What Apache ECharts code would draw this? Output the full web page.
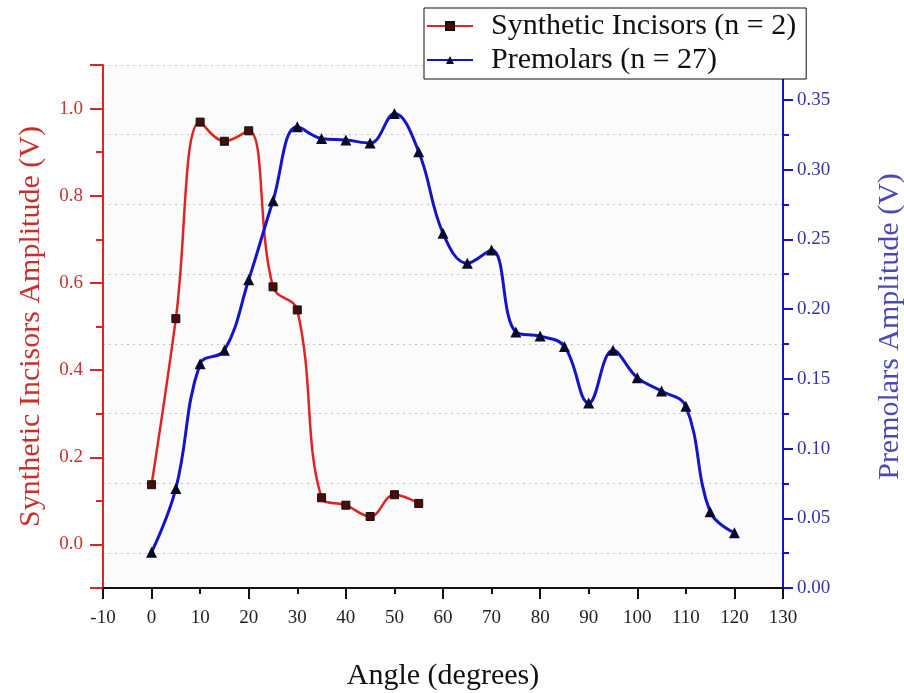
<!DOCTYPE html>
<html>
<head>
<meta charset="utf-8">
<title>Synthetic Incisors vs Premolars</title>
<script src="https://cdn.jsdelivr.net/npm/echarts@6/dist/echarts.min.js"></script>
<style>
    html, body { margin: 0; padding: 0; background: #fff; }
    #main1 { width: 904px; height: 693px; }
</style>
</head>
<body>
<div id="main1"></div>
<script>
// angle in degrees, amplitude in V
var incisorAngles = [0, 5, 10, 15, 20, 25, 30, 35, 40, 45, 50, 55];
var incisorValues = [0.137, 0.518, 0.969, 0.925, 0.949, 0.591, 0.538, 0.107, 0.090, 0.064, 0.114, 0.094];

var premolarAngles = [0, 5, 10, 15, 20, 25, 30, 35, 40, 45, 50, 55, 60, 65, 70, 75, 80, 85, 90, 95, 100, 105, 110, 115, 120];
var premolarValues = [0.0256, 0.0714, 0.1608, 0.1704, 0.2210, 0.2777, 0.3307, 0.3223, 0.3212, 0.3190, 0.3402, 0.3128,
    0.2543, 0.2329, 0.2424, 0.1835, 0.1806, 0.1732, 0.1326, 0.1704, 0.1508, 0.1412, 0.1303, 0.0546, 0.0396];

// tick labels
var leftLabels = ['0.0', '0.2', '0.4', '0.6', '0.8', '1.0'];
var rightLabels = ['0.00', '0.05', '0.10', '0.15', '0.20', '0.25', '0.30', '0.35'];

var incisorName = 'Synthetic Incisors (n = 2)';
var premolarName = 'Premolars (n = 27)';

drawMain1();

function drawMain1() {
    var myChart = echarts.init(document.getElementById('main1'));

    var serif = 'Liberation Serif';
    var red = '#e02424';
    var blue = '#1414c8';

    var option = {
        backgroundColor: '#fff',
        animation: false,
        legend: {
            orient: 'vertical',
            left: 424,
            top: 8,
            itemWidth: 46,
            itemHeight: 10,
            itemGap: 4,
            padding: [3, 10, 4, 2],
            backgroundColor: '#fff',
            borderColor: '#111',
            borderWidth: 1,
            borderRadius: 0,
            textStyle: { fontFamily: serif, fontSize: 30, color: '#111', padding: [0, 0, 0, 13] },
            data: [incisorName, premolarName]
        },
        // second grid only carries the longer (major) ticks
        grid: [
            { left: 103, right: 121, top: 65, bottom: 105, outerBoundsMode: 'none', show: true, backgroundColor: '#fbfbfb', borderWidth: 0 },
            { left: 103, right: 121, top: 65, bottom: 105, outerBoundsMode: 'none' }
        ],
        xAxis: [{
            type: 'value',
            gridIndex: 0,
            min: -10,
            max: 130,
            interval: 10,
            name: 'Angle (degrees)',
            nameLocation: 'middle',
            nameGap: 73,
            nameTextStyle: { fontFamily: serif, fontSize: 30, color: '#111' },
            axisLine: { onZero: false, lineStyle: { color: '#111', width: 2 } },
            axisTick: { length: 6, lineStyle: { color: '#111', width: 2 } },
            axisLabel: { margin: 21, fontFamily: serif, fontSize: 19, color: '#222' },
            splitLine: { show: false }
        }, {
            type: 'value',
            gridIndex: 1,
            min: -10,
            max: 130,
            splitNumber: 7,
            axisLine: { show: false, onZero: false },
            axisTick: { length: 11, lineStyle: { color: '#111', width: 2 } },
            axisLabel: { show: false },
            splitLine: { show: false }
        }],
        yAxis: [{
            type: 'value',
            gridIndex: 0,
            position: 'left',
            min: -0.1,
            max: 1.1,
            interval: 0.1,
            name: 'Synthetic Incisors Amplitude (V)',
            nameLocation: 'middle',
            nameGap: 57,
            nameTextStyle: { fontFamily: serif, fontSize: 30, color: '#c8302c' },
            axisLine: { onZero: false, lineStyle: { color: red, width: 2 } },
            axisTick: { length: 7, lineStyle: { color: red, width: 2 } },
            axisLabel: {
                margin: 20, fontFamily: serif, fontSize: 19, color: '#c83232',
                formatter: function (v) {
                    var s = v.toFixed(1);
                    return leftLabels.indexOf(s) >= 0 ? s : '';
                }
            },
            splitLine: { show: false }
        }, {
            type: 'value',
            gridIndex: 0,
            position: 'right',
            min: 0,
            max: 0.375,
            interval: 0.025,
            name: 'Premolars Amplitude (V)',
            nameLocation: 'middle',
            nameGap: 92,
            nameRotate: 90,
            nameTextStyle: { fontFamily: serif, fontSize: 30, color: '#4a4ab4' },
            axisLine: { onZero: false, lineStyle: { color: blue, width: 2 } },
            axisTick: { length: 6, lineStyle: { color: blue, width: 2 } },
            axisLabel: {
                margin: 14, fontFamily: serif, fontSize: 19, color: '#3434a8',
                formatter: function (v) {
                    var s = v.toFixed(2);
                    return rightLabels.indexOf(s) >= 0 ? s : '';
                }
            },
            splitLine: {
                show: true,
                lineStyle: { color: ['rgba(0,0,0,0)', '#c4c4c4'], type: [2, 4], width: 1 }
            }
        }, {
            type: 'value',
            gridIndex: 1,
            position: 'left',
            min: -0.1,
            max: 1.1,
            splitNumber: 6,
            axisLine: { show: false, onZero: false },
            axisTick: { length: 13, lineStyle: { color: red, width: 2 } },
            axisLabel: { show: false },
            splitLine: { show: false }
        }, {
            type: 'value',
            gridIndex: 1,
            position: 'right',
            min: 0,
            max: 0.375,
            splitNumber: 7,
            axisLine: { show: false, onZero: false },
            axisTick: { length: 10, lineStyle: { color: blue, width: 2 } },
            axisLabel: { show: false },
            splitLine: { show: false }
        }],
        series: [{
            name: incisorName,
            type: 'line',
            xAxisIndex: 0,
            yAxisIndex: 0,
            smooth: 0.4,
            symbol: 'rect',
            symbolSize: 8,
            lineStyle: { color: red, width: 2.5 },
            itemStyle: { color: '#4a0c0c', borderColor: '#111', borderWidth: 1 },
            data: zip(incisorAngles, incisorValues)
        }, {
            name: premolarName,
            type: 'line',
            xAxisIndex: 0,
            yAxisIndex: 1,
            smooth: 0.4,
            symbol: 'triangle',
            symbolSize: 11,
            lineStyle: { color: blue, width: 3 },
            itemStyle: { color: '#0a0a2a', borderColor: '#0a0a2a', borderWidth: 0 },
            data: zip(premolarAngles, premolarValues)
        }]
    };

    myChart.setOption(option);
}

// pair x and y arrays into [[x, y], ...]
function zip(xs, ys) {
    var out = [];
    for (var i = 0; i < xs.length; i++) {
        out.push([xs[i], ys[i]]);
    }
    return out;
}
</script>
</body>
</html>
